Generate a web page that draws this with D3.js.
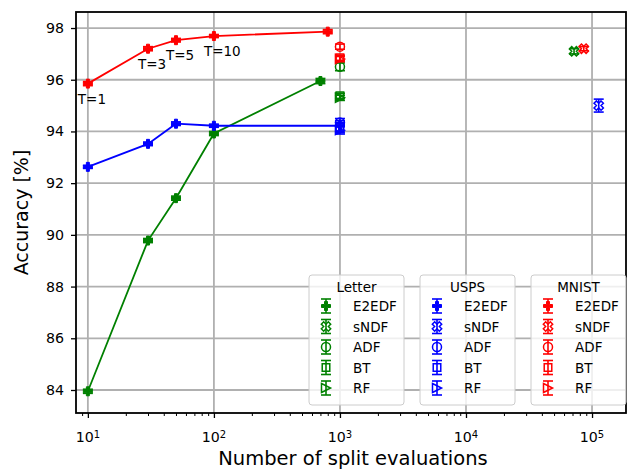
<!DOCTYPE html>
<html>
<head>
<meta charset="utf-8">
<script src="https://cdn.jsdelivr.net/npm/d3@7"></script>
<style>
  body { margin: 0; background: #fff; }
  svg { display: block; }
  text { font-family: "DejaVu Sans", sans-serif; }
</style>
</head>
<body>
<div id="chart"></div>
<script>
const width = 628;
const height = 469;

// datasets + methods
const datasets = ["Letter", "USPS", "MNIST"];
const datasetColors = ["green", "blue", "red"];
const methods = ["E2EDF", "sNDF", "ADF", "BT", "RF"];
const methodMarkers = ["P", "X", "o", "s", ">"];

// E2EDF curves (number of split evaluations vs accuracy)
const letterEvals = [10, 30, 50, 100, 700];
const letterAcc = [83.95, 89.78, 91.42, 93.92, 95.95];
const letterErr = [0.08, 0.08, 0.08, 0.08, 0.1];

const uspsEvals = [10, 30, 50, 100, 1000];
const uspsAcc = [92.63, 93.52, 94.3, 94.22, 94.22];
const uspsErr = [0.06, 0.07, 0.07, 0.06, 0.2];

const mnistEvals = [10, 30, 50, 100, 800];
const mnistAcc = [95.85, 97.2, 97.53, 97.69, 97.86];
const mnistErr = [0.08, 0.08, 0.07, 0.06, 0.08];

const treeLabels = ["T=1", "T=3", "T=5", "T=10"];

// baselines: sNDF, ADF, BT, RF
const letterBaseEvals = [72000, 1000, 1000, 1000];
const letterBaseAcc = [97.1, 96.5, 95.38, 95.3];
const letterBaseErr = [0.1, 0.15, 0.1, 0.1];

const uspsBaseEvals = [113000, 1000, 1000, 1000];
const uspsBaseAcc = [95.0, 94.35, 94.15, 94.05];
const uspsBaseErr = [0.25, 0.15, 0.2, 0.15];

const mnistBaseEvals = [86000, 1000, 1000, 1000];
const mnistBaseAcc = [97.2, 97.28, 96.85, 96.8];
const mnistBaseErr = [0.08, 0.1, 0.1, 0.1];

const xTicks = [10, 100, 1000, 10000, 100000];
const yTicks = [84, 86, 88, 90, 92, 94, 96, 98];

const e2edf = [
  { evals: letterEvals, acc: letterAcc, err: letterErr },
  { evals: uspsEvals, acc: uspsAcc, err: uspsErr },
  { evals: mnistEvals, acc: mnistAcc, err: mnistErr }
];
const baselines = [
  { evals: letterBaseEvals, acc: letterBaseAcc, err: letterBaseErr },
  { evals: uspsBaseEvals, acc: uspsBaseAcc, err: uspsBaseErr },
  { evals: mnistBaseEvals, acc: mnistBaseAcc, err: mnistBaseErr }
];

const plot = { left: 76, right: 626, top: 12, bottom: 413 };

const x = d3.scaleLog().domain([8.05, 186000]).range([plot.left, plot.right]);
const y = d3.scaleLinear().domain([83.11, 98.62]).range([plot.bottom, plot.top]);

const svg = d3.select("#chart").append("svg")
  .attr("width", width)
  .attr("height", height);

svg.append("defs").append("clipPath").attr("id", "clip")
  .append("rect")
  .attr("x", plot.left).attr("y", plot.top)
  .attr("width", plot.right - plot.left).attr("height", plot.bottom - plot.top);

// grid
const grid = svg.append("g");
xTicks.forEach(t => {
  grid.append("line")
    .attr("x1", x(t)).attr("x2", x(t))
    .attr("y1", plot.top).attr("y2", plot.bottom)
    .attr("stroke", "#b0b0b0").attr("stroke-width", 1.8);
});
yTicks.forEach(t => {
  grid.append("line")
    .attr("x1", plot.left).attr("x2", plot.right)
    .attr("y1", y(t)).attr("y2", y(t))
    .attr("stroke", "#b0b0b0").attr("stroke-width", 1.8);
});

// marker drawing
function markerPath(type, s) {
  const h = s / 2;
  if (type === "P" || type === "X") {
    const pts = [[-1, -3], [1, -3], [1, -1], [3, -1], [3, 1], [1, 1], [1, 3], [-1, 3], [-1, 1], [-3, 1], [-3, -1], [-1, -1]]
      .map(p => [p[0] / 6 * s, p[1] / 6 * s]);
    const rot = type === "X" ? Math.PI / 4 : 0;
    return "M" + pts.map(p => {
      const px = p[0] * Math.cos(rot) - p[1] * Math.sin(rot);
      const py = p[0] * Math.sin(rot) + p[1] * Math.cos(rot);
      return px.toFixed(2) + "," + py.toFixed(2);
    }).join("L") + "Z";
  }
  if (type === "s") {
    const a = s * 0.42;
    return `M${-a},${-a}L${a},${-a}L${a},${a}L${-a},${a}Z`;
  }
  if (type === ">") {
    return `M${h},0L${-h},${h}L${-h},${-h}Z`;
  }
  return null;
}

function drawMarker(g, type, cx, cy, color, s) {
  if (type === "o") {
    g.append("circle")
      .attr("cx", cx).attr("cy", cy).attr("r", s / 2)
      .attr("fill", "none").attr("stroke", color).attr("stroke-width", 1.5);
    return;
  }
  const filled = type === "P";
  g.append("path")
    .attr("d", markerPath(type, type === "X" ? s * 1.1 : s))
    .attr("transform", `translate(${cx},${cy})`)
    .attr("fill", filled ? color : "none")
    .attr("stroke", color)
    .attr("stroke-width", filled ? 1 : 1.5)
    .attr("stroke-linejoin", "miter");
}

function drawErrorBar(g, cx, y0, y1, color, cap) {
  g.append("line")
    .attr("x1", cx).attr("x2", cx).attr("y1", y0).attr("y2", y1)
    .attr("stroke", color).attr("stroke-width", 1.6);
  [y0, y1].forEach(yy => {
    g.append("line")
      .attr("x1", cx - cap).attr("x2", cx + cap).attr("y1", yy).attr("y2", yy)
      .attr("stroke", color).attr("stroke-width", 1.6);
  });
}

const marks = svg.append("g").attr("clip-path", "url(#clip)");
const line = d3.line().x(d => x(d[0])).y(d => y(d[1]));

datasets.forEach((name, i) => {
  const color = datasetColors[i];
  const s = e2edf[i];
  const pts = s.evals.map((v, k) => [v, s.acc[k]]);
  marks.append("path")
    .attr("d", line(pts))
    .attr("fill", "none")
    .attr("stroke", color)
    .attr("stroke-width", 1.8);
  pts.forEach((p, k) => {
    drawErrorBar(marks, x(p[0]), y(p[1] - s.err[k]), y(p[1] + s.err[k]), color, 5);
    drawMarker(marks, "P", x(p[0]), y(p[1]), color, 9);
  });
  const b = baselines[i];
  b.evals.forEach((v, k) => {
    drawErrorBar(marks, x(v), y(b.acc[k] - b.err[k]), y(b.acc[k] + b.err[k]), color, 5);
    drawMarker(marks, methodMarkers[k + 1], x(v), y(b.acc[k]), color, 9);
  });
});

// T= annotations on the MNIST curve
treeLabels.forEach((t, k) => {
  svg.append("text")
    .attr("x", x(mnistEvals[k]) - 10)
    .attr("y", y(mnistAcc[k]) + 20)
    .attr("font-size", "13.5px")
    .attr("fill", "#000")
    .text(t);
});

// axes
const xAxis = d3.axisBottom(x).tickValues(xTicks).tickSize(5).tickPadding(5).tickFormat("");
const gx = svg.append("g").attr("transform", `translate(0,${plot.bottom})`).call(xAxis);
gx.select(".domain").remove();
gx.selectAll(".tick line").attr("stroke", "#000").attr("stroke-width", 1.3);

const minorTicks = [];
for (let e = 0; e <= 5; e++) {
  for (let m = 2; m <= 9; m++) {
    const v = m * Math.pow(10, e);
    if (v > x.domain()[0] && v < x.domain()[1]) minorTicks.push(v);
  }
}
const gxm = svg.append("g").attr("transform", `translate(0,${plot.bottom})`)
  .call(d3.axisBottom(x).tickValues(minorTicks).tickSize(3).tickFormat(""));
gxm.select(".domain").remove();
gxm.selectAll(".tick line").attr("stroke", "#000").attr("stroke-width", 1);

xTicks.forEach(t => {
  const txt = svg.append("text")
    .attr("x", x(t))
    .attr("y", plot.bottom + 29)
    .attr("text-anchor", "middle")
    .attr("font-size", "14.2px");
  txt.append("tspan").text("10");
  txt.append("tspan").attr("dy", "-0.45em").attr("font-size", "10px").text(Math.round(Math.log10(t)));
});

const yAxis = d3.axisLeft(y).tickValues(yTicks).tickSize(5).tickPadding(7);
const gy = svg.append("g").attr("transform", `translate(${plot.left},0)`).call(yAxis);
gy.select(".domain").remove();
gy.selectAll(".tick line").attr("stroke", "#000").attr("stroke-width", 1.3);
gy.selectAll(".tick text")
  .attr("font-size", "14.2px")
  .attr("font-family", "DejaVu Sans")
  .attr("fill", "#000");

// frame
svg.append("rect")
  .attr("x", plot.left).attr("y", plot.top)
  .attr("width", plot.right - plot.left).attr("height", plot.bottom - plot.top)
  .attr("fill", "none").attr("stroke", "#000").attr("stroke-width", 1.8);

// axis titles
svg.append("text")
  .attr("x", 353)
  .attr("y", 465)
  .attr("text-anchor", "middle")
  .attr("font-size", "19.5px")
  .text("Number of split evaluations");

svg.append("text")
  .attr("transform", `translate(28,${(plot.top + plot.bottom) / 2}) rotate(-90)`)
  .attr("text-anchor", "middle")
  .attr("font-size", "19px")
  .text("Accuracy [%]");

// legends, one box per dataset
const legendX = [309, 420, 531];
const legendTop = 275;
const rowGap = 20.5;

datasets.forEach((name, i) => {
  const color = datasetColors[i];
  const lg = svg.append("g").attr("transform", `translate(${legendX[i]},${legendTop})`);
  lg.append("rect")
    .attr("x", 0).attr("y", 0)
    .attr("width", 95).attr("height", 130)
    .attr("rx", 3)
    .attr("fill", "#fff").attr("fill-opacity", 0.8)
    .attr("stroke", "#cccccc").attr("stroke-width", 1);
  lg.append("text")
    .attr("x", 47.5).attr("y", 17)
    .attr("text-anchor", "middle")
    .attr("font-size", "13.5px")
    .text(name);
  methods.forEach((m, k) => {
    const cy = 31 + k * rowGap;
    drawErrorBar(lg, 17, cy - 7, cy + 7, color, 5);
    drawMarker(lg, methodMarkers[k], 17, cy, color, 9);
    lg.append("text")
      .attr("x", 44).attr("y", cy + 5)
      .attr("font-size", "13.5px")
      .text(m);
  });
});
</script>
</body>
</html>
